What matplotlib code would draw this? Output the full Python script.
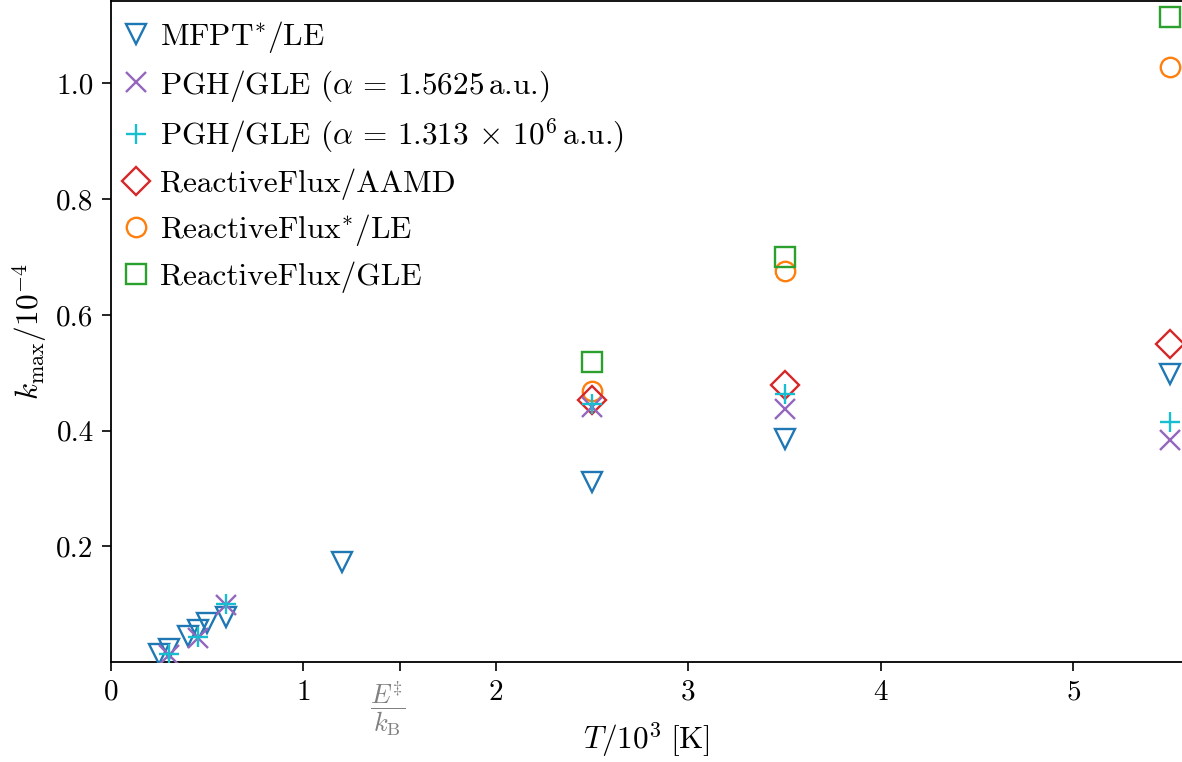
import matplotlib
matplotlib.use("Agg")
import matplotlib.pyplot as plt
from matplotlib.transforms import ScaledTranslation

plt.rcParams['font.family'] = 'serif'
plt.rcParams['font.serif'] = ['cmr10']
plt.rcParams['mathtext.fontset'] = 'cm'
plt.rcParams['axes.unicode_minus'] = False
plt.rcParams['axes.formatter.use_mathtext'] = True

# ---- data (T in 10^3 K, k_max in 10^-4) ----
T_mfpt = [0.25, 0.30, 0.40, 0.45, 0.50, 0.60, 1.20, 2.50, 3.50, 5.50]
k_mfpt = [0.013, 0.022, 0.045, 0.056, 0.067, 0.078, 0.173, 0.311, 0.385, 0.497]

T_pgh1 = [0.30, 0.45, 0.60, 2.50, 3.50, 5.50]
k_pgh1 = [0.012, 0.041, 0.098, 0.441, 0.438, 0.384]

T_pgh2 = [0.30, 0.45, 0.60, 2.50, 3.50, 5.50]
k_pgh2 = [0.013, 0.043, 0.100, 0.446, 0.464, 0.415]

T_aamd = [2.50, 3.50, 5.50]
k_aamd = [0.453, 0.479, 0.550]

T_rfle = [2.50, 3.50, 5.50]
k_rfle = [0.468, 0.676, 1.029]

T_rfgle = [2.50, 3.50, 5.50]
k_rfgle = [0.519, 0.700, 1.115]

labels = [
    r'MFPT$^{*}$/LE',
    r'PGH/GLE ($\alpha\,=\,1.5625\,$a.u.)',
    r'PGH/GLE ($\alpha\,=\,1.313\,\times\,10^{6}\,$a.u.)',
    r'ReactiveFlux/AAMD',
    r'ReactiveFlux$^{*}$/LE',
    r'ReactiveFlux/GLE',
]

x_ticks = [0, 1, 1.5, 2, 3, 4, 5]
x_ticklabels = ['0', '1', r'$\dfrac{E^{\ddagger}}{k_{\mathrm{B}}}$', '2', '3', '4', '5']
y_ticks = [0.2, 0.4, 0.6, 0.8, 1.0]
y_ticklabels = ['0.2', '0.4', '0.6', '0.8', '1.0']

fig = plt.figure(figsize=(11.82, 7.62), dpi=100)
ax = fig.add_axes([111/1182, 1 - 662/762, 1 - 111/1182, 661/762])

ms = 14
mew = 1.7
h_mfpt, = ax.plot(T_mfpt, k_mfpt, ls='none', marker='v', ms=ms, mew=mew,
                  mfc='none', mec='#1f77b4', zorder=5, label=labels[0])
h_pgh1, = ax.plot(T_pgh1, k_pgh1, ls='none', marker='x', ms=ms, mew=mew,
                  color='#9467bd', zorder=6, label=labels[1])
h_pgh2, = ax.plot(T_pgh2, k_pgh2, ls='none', marker='+', ms=ms, mew=mew,
                  color='#17becf', zorder=7, label=labels[2])
h_aamd, = ax.plot(T_aamd, k_aamd, ls='none', marker='D', ms=ms, mew=mew,
                  mfc='none', mec='#d62728', zorder=4, label=labels[3])
h_rfle, = ax.plot(T_rfle, k_rfle, ls='none', marker='o', ms=ms, mew=mew,
                  mfc='none', mec='#ff7f0e', zorder=2, label=labels[4])
h_rfgle, = ax.plot(T_rfgle, k_rfgle, ls='none', marker='s', ms=ms, mew=mew,
                   mfc='none', mec='#2ca02c', zorder=3, label=labels[5])

ax.set_xlim(0, 5.564)
ax.set_ylim(0, 1.1426)
ax.set_xticks(x_ticks)
ax.set_xticklabels(x_ticklabels)
ax.set_yticks(y_ticks)
ax.set_yticklabels(y_ticklabels)

ax.tick_params(axis='both', which='major', direction='out', length=6.5,
               width=1.2, labelsize=21, pad=6)
frac_lbl = ax.get_xticklabels()[2]
frac_lbl.set_color('gray')
frac_lbl.set_fontsize(19)
frac_lbl.set_transform(frac_lbl.get_transform() +
                       ScaledTranslation(-12/100, 0, fig.dpi_scale_trans))

for s in ['left', 'bottom', 'top']:
    ax.spines[s].set_linewidth(1.3)
ax.spines['right'].set_visible(False)

ax.set_xlabel(r'$T/10^{3}\;[\mathrm{K}]$', fontsize=22.5)
ax.xaxis.set_label_coords(0.5, -(721 - 662) / 661)
ax.set_ylabel(r'$k_{\max}/10^{-4}$', fontsize=22.5)
ax.yaxis.set_label_coords(-(111 - 50) / 1071, 0.5)

ax.legend(handles=[h_mfpt, h_pgh1, h_pgh2, h_aamd, h_rfle, h_rfgle],
          loc='upper left', bbox_to_anchor=(0, 1 - 9/661),
          frameon=False, fontsize=22.5, numpoints=1,
          handlelength=1.0, handletextpad=0.27, labelspacing=0.41,
          borderaxespad=0.0, borderpad=0.3)

fig.savefig('out.png', dpi=100)
